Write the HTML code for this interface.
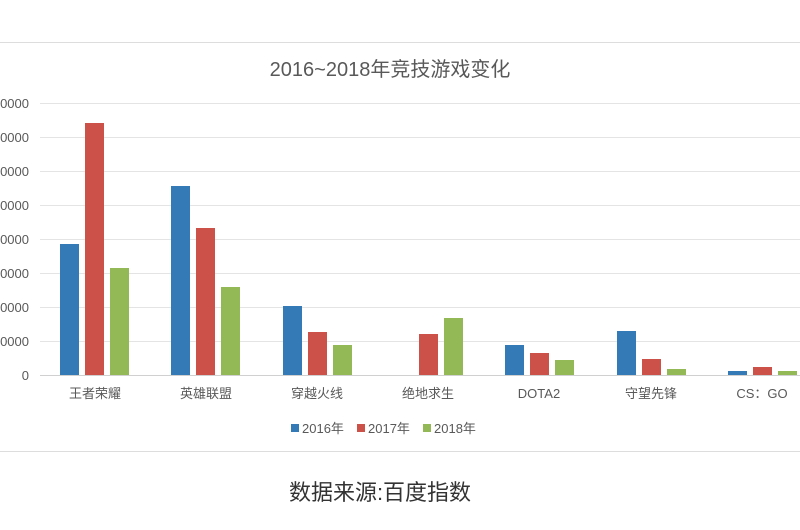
<!DOCTYPE html>
<html><head><meta charset="utf-8"><style>
body{margin:0;background:#fff;width:800px;height:525px;overflow:hidden}
svg text{font-family:"Liberation Sans","Noto Sans CJK SC",sans-serif}
</style></head><body>
<svg width="800" height="525" xmlns="http://www.w3.org/2000/svg">
<line x1="0" y1="42.5" x2="800" y2="42.5" stroke="#ddd"/>
<line x1="0" y1="451.5" x2="800" y2="451.5" stroke="#ddd"/>
<text x="390" y="76" font-size="20" fill="#595959" text-anchor="middle">2016~2018年竞技游戏变化</text>
<g stroke="#e4e4e4">
<line x1="40" x2="800" y1="103.5" y2="103.5"/><line x1="40" x2="800" y1="137.5" y2="137.5"/>
<line x1="40" x2="800" y1="171.5" y2="171.5"/><line x1="40" x2="800" y1="205.5" y2="205.5"/>
<line x1="40" x2="800" y1="239.5" y2="239.5"/><line x1="40" x2="800" y1="273.5" y2="273.5"/>
<line x1="40" x2="800" y1="307.5" y2="307.5"/><line x1="40" x2="800" y1="341.5" y2="341.5"/>
<line x1="40" x2="800" y1="375.5" y2="375.5" stroke="#d0d0d0"/>
</g>
<g font-size="13" fill="#595959" text-anchor="end">
<text x="29" y="108">00000</text><text x="29" y="142">00000</text><text x="29" y="176">00000</text>
<text x="29" y="210">00000</text><text x="29" y="244">00000</text><text x="29" y="278">00000</text>
<text x="29" y="312">00000</text><text x="29" y="346">00000</text><text x="29" y="380">0</text>
</g>
<g>
<rect x="60" y="244" width="19" height="131" fill="#337ab7"/><rect x="85" y="123" width="19" height="252" fill="#cc5249"/><rect x="110" y="268" width="19" height="107" fill="#93b957"/>
<rect x="171" y="186" width="19" height="189" fill="#337ab7"/><rect x="196" y="228" width="19" height="147" fill="#cc5249"/><rect x="221" y="287" width="19" height="88" fill="#93b957"/>
<rect x="283" y="306" width="19" height="69" fill="#337ab7"/><rect x="308" y="332" width="19" height="43" fill="#cc5249"/><rect x="333" y="345" width="19" height="30" fill="#93b957"/>
<rect x="419" y="334" width="19" height="41" fill="#cc5249"/><rect x="444" y="318" width="19" height="57" fill="#93b957"/>
<rect x="505" y="345" width="19" height="30" fill="#337ab7"/><rect x="530" y="353" width="19" height="22" fill="#cc5249"/><rect x="555" y="360" width="19" height="15" fill="#93b957"/>
<rect x="617" y="331" width="19" height="44" fill="#337ab7"/><rect x="642" y="359" width="19" height="16" fill="#cc5249"/><rect x="667" y="369" width="19" height="6" fill="#93b957"/>
<rect x="728" y="371" width="19" height="4" fill="#337ab7"/><rect x="753" y="367" width="19" height="8" fill="#cc5249"/><rect x="778" y="371" width="19" height="4" fill="#93b957"/>
</g>
<g font-size="13" fill="#595959" text-anchor="middle">
<text x="95" y="398">王者荣耀</text><text x="206" y="398">英雄联盟</text><text x="317" y="398">穿越火线</text>
<text x="428" y="398">绝地求生</text><text x="539" y="398">DOTA2</text><text x="651" y="398">守望先锋</text>
<text x="762" y="398">CS：GO</text>
</g>
<g font-size="13" fill="#595959">
<rect x="291" y="424" width="8" height="8" fill="#337ab7"/><text x="302" y="433">2016年</text>
<rect x="357" y="424" width="8" height="8" fill="#cc5249"/><text x="368" y="433">2017年</text>
<rect x="423" y="424" width="8" height="8" fill="#93b957"/><text x="434" y="433">2018年</text>
</g>
<text x="380" y="500" font-size="22" fill="#333" text-anchor="middle">数据来源:百度指数</text>
</svg>
</body></html>
